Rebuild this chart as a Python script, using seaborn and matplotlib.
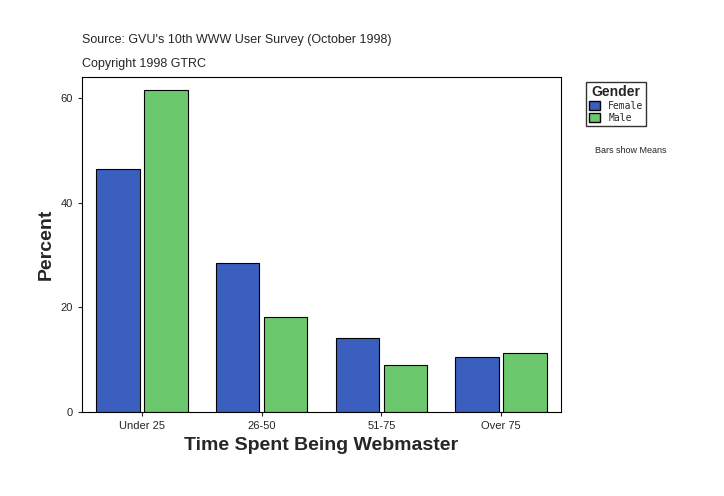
import matplotlib
matplotlib.use("Agg")
import matplotlib.pyplot as plt
import seaborn as sns
import pandas as pd

categories = ["Under 25", "26-50", "51-75", "Over 75"]
female = [46.5, 28.5, 14.2, 10.6]
male = [61.5, 18.2, 8.9, 11.2]

df = pd.DataFrame({
    "cat": categories * 2,
    "val": female + male,
    "Gender": ["Female"] * 4 + ["Male"] * 4,
})

sns.set_style("white")
plt.rcParams['font.family'] = ['Liberation Sans', 'DejaVu Sans']
fig = plt.figure(figsize=(7.24, 4.96), dpi=100)
ax = fig.add_axes([82/724, 1-412/496, 479/724, 335/496])
sns.barplot(data=df, x="cat", y="val", hue="Gender", order=categories,
            palette={"Female": "#3a5fbf", "Male": "#6cc86c"}, saturation=1,
            width=0.8, gap=0.09, edgecolor="black", linewidth=0.8, ax=ax, legend=False)
ax.set_xlim(-0.5, 3.5)
ax.set_ylim(0, 64)
ax.set_yticks([0, 20, 40, 60])
ax.tick_params(axis="both", labelsize=8, length=3, left=True, bottom=True)
for s in ax.spines.values():
    s.set_color("black"); s.set_linewidth(0.8)
ax.set_xlabel("Time Spent Being Webmaster", fontsize=14, fontweight="bold")
ax.set_ylabel("Percent", fontsize=14, fontweight="bold")
fig.text(82/724, 1-40/496, "Source: GVU's 10th WWW User Survey (October 1998)", fontsize=9, va="center")
fig.text(82/724, 1-64/496, "Copyright 1998 GTRC", fontsize=9, va="center")

from matplotlib.patches import Patch
handles = [Patch(facecolor="#3a5fbf", edgecolor="black", label="Female"),
           Patch(facecolor="#6cc86c", edgecolor="black", label="Male")]
leg = fig.legend(handles=handles, title="Gender", loc="upper left",
                 bbox_to_anchor=(581/724, 1-77/496), fontsize=7, title_fontsize=10,
                 frameon=True, fancybox=False, edgecolor="black",
                 handlelength=1.2, handleheight=1.0, borderpad=0.3, labelspacing=0.2,
                 prop={"family": "DejaVu Sans Mono", "size": 7})
leg.get_title().set_fontweight("bold")
fig.text(595/724, 1-150/496, "Bars show Means", fontsize=6.5, va="center")
fig.savefig("out.png", dpi=100)
